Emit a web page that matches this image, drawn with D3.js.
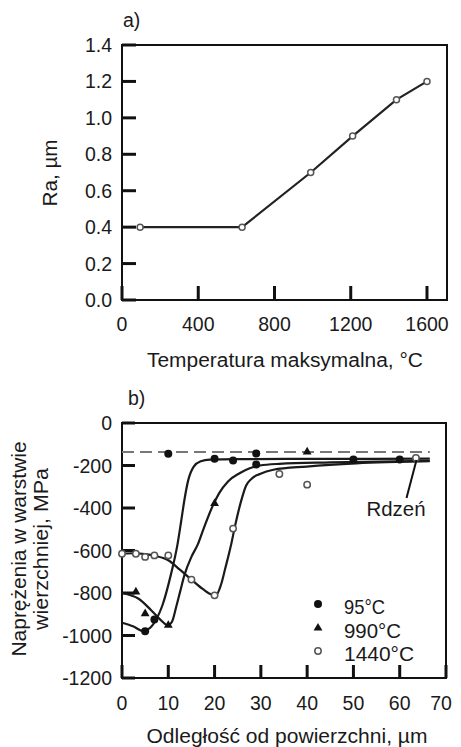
<!DOCTYPE html>
<html><head><meta charset="utf-8">
<script src="https://cdn.jsdelivr.net/npm/d3@7"></script>
<style>
html,body{margin:0;padding:0;background:#fff;}
svg text{font-family:"Liberation Sans",Arial,sans-serif;fill:#1a1a1a;}
</style></head>
<body><svg id="c" width="461" height="747"></svg>
<script>
// ---- Chart a data ----
const tempA = [95, 630, 990, 1210, 1440, 1600];
const raA = [0.4, 0.4, 0.7, 0.9, 1.1, 1.2];
const xTicksA = [0, 400, 800, 1200, 1600];
const yTicksA = [0.0, 0.2, 0.4, 0.6, 0.8, 1.0, 1.2, 1.4];

// ---- Chart b data ----
const seriesNames = ["95°C", "990°C", "1440°C"];
const pts95 = [[5,-980],[7,-925],[10,-145],[20,-168],[24,-176],[29,-144],[29,-195],[50,-172],[60,-172]];
const pts990 = [[3,-795],[5,-897],[10,-952],[20,-379],[40,-136]];
const pts1440 = [[0,-615],[3,-615],[5,-630],[7,-623],[10,-623],[15,-737],[20,-811],[24,-497],[34,-240],[40,-290],[63.5,-165]];
const fit95 = [[0,-940],[2.5,-958],[4.5,-978],[6,-965],[7.5,-920],[8.7,-860],[10.6,-710],[12,-570],[12.8,-460],[13.5,-360],[14.3,-270],[15.5,-205],[17,-180],[19,-172],[25,-170],[40,-169],[66.5,-168]];
const fit990 = [[0,-800],[2,-812],[3.5,-826],[6.3,-881],[8.5,-930],[9.9,-952],[10.8,-935],[11.7,-866],[12.6,-790],[13.5,-715],[15,-630],[16.4,-570],[17.5,-505],[19.6,-390],[21,-330],[22.9,-275],[25.5,-235],[27.6,-213],[29.8,-200],[34,-192],[45,-185],[66.5,-178]];
const fit1440 = [[0,-615],[2.7,-613],[5,-617],[7.1,-625],[9.9,-645],[12.5,-690],[15,-737],[17.5,-782],[19.5,-808],[20.3,-810],[21.4,-760],[22.3,-685],[23,-625],[23.6,-570],[24.3,-497],[25.7,-370],[26.8,-295],[28,-262],[29.8,-240],[32.7,-220],[39.9,-205],[50.6,-190],[66.5,-180]];
const coreLevel = -136;
const xTicksB = [0, 10, 20, 30, 40, 50, 60, 70];
const yTicksB = [0, -200, -400, -600, -800, -1000, -1200];

const svg = d3.select("#c");
const FS = 19.5;

function label(g, x, y, txt, len, anchor, rot, fs) {
  const t = g.append("text").attr("font-size", fs || FS).attr("text-anchor", anchor || "start").text(txt);
  if (rot) t.attr("transform", `translate(${x},${y}) rotate(-90)`);
  else t.attr("x", x).attr("y", y);
  if (len) t.attr("textLength", len).attr("lengthAdjust", "spacingAndGlyphs");
  return t;
}

// ---------------- Chart a ----------------
const xa = d3.scaleLinear().domain([0, 1705]).range([122, 447]);
const ya = d3.scaleLinear().domain([0, 1.4]).range([300, 45]);
const ga = svg.append("g");
ga.append("rect").attr("x", 122).attr("y", 45).attr("width", 325).attr("height", 255)
  .attr("fill", "none").attr("stroke", "#111").attr("stroke-width", 2);
ga.selectAll(".yt").data(yTicksA).join("line")
  .attr("x1", 122).attr("x2", 136).attr("y1", d => ya(d)).attr("y2", d => ya(d))
  .attr("stroke", "#111").attr("stroke-width", 3);
ga.selectAll(".xt").data(xTicksA).join("line")
  .attr("x1", d => xa(d)).attr("x2", d => xa(d)).attr("y1", 300).attr("y2", 286)
  .attr("stroke", "#111").attr("stroke-width", 3);
ga.selectAll(".yl").data(yTicksA).join("text")
  .attr("x", 112).attr("y", d => ya(d) + 7).attr("text-anchor", "end")
  .attr("font-size", FS).text(d => d.toFixed(1));
ga.selectAll(".xl").data(xTicksA).join("text")
  .attr("x", d => xa(d)).attr("y", 331).attr("text-anchor", "middle")
  .attr("font-size", FS).text(d => d);
label(ga, 285, 367, "Temperatura maksymalna, °C", 276, "middle");
label(ga, 57, 173, "Ra, µm", 67, "middle", true);
label(ga, 123, 27, "a)");
const dA = tempA.map((t, i) => [t, raA[i]]);
ga.append("path").datum(dA)
  .attr("d", d3.line().x(d => xa(d[0])).y(d => ya(d[1])))
  .attr("fill", "none").attr("stroke", "#222").attr("stroke-width", 2.2);
ga.selectAll(".pa").data(dA).join("circle")
  .attr("cx", d => xa(d[0])).attr("cy", d => ya(d[1])).attr("r", 3)
  .attr("fill", "#fff").attr("stroke", "#555").attr("stroke-width", 1.5);

// ---------------- Chart b ----------------
const xb = d3.scaleLinear().domain([0, 70]).range([122, 446]);
const yb = d3.scaleLinear().domain([-1200, 0]).range([678, 423]);
const gb = svg.append("g");
gb.append("rect").attr("x", 122).attr("y", 423).attr("width", 324).attr("height", 255)
  .attr("fill", "none").attr("stroke", "#111").attr("stroke-width", 2);
gb.selectAll(".yt").data(yTicksB).join("line")
  .attr("x1", 122).attr("x2", 135).attr("y1", d => yb(d)).attr("y2", d => yb(d))
  .attr("stroke", "#111").attr("stroke-width", 3);
gb.selectAll(".xt").data(xTicksB).join("line")
  .attr("x1", d => xb(d)).attr("x2", d => xb(d)).attr("y1", 678).attr("y2", 665)
  .attr("stroke", "#111").attr("stroke-width", 3);
gb.selectAll(".yl").data(yTicksB).join("text")
  .attr("x", 112).attr("y", d => yb(d) + 7).attr("text-anchor", "end")
  .attr("font-size", FS).text(d => d);
gb.selectAll(".xl").data(xTicksB).join("text")
  .attr("x", d => xb(d) - (d === 70 ? 5 : 0)).attr("y", 710).attr("text-anchor", "middle")
  .attr("font-size", FS).text(d => d);
label(gb, 287, 743, "Odległość od powierzchni, µm", 281, "middle");
label(gb, 26, 549, "Naprężenia w warstwie", 215, "middle", true);
label(gb, 48, 549, "wierzchniej, MPa", 162, "middle", true);
label(gb, 128, 405, "b)");

// core dashed line
gb.append("line").attr("x1", xb(0)).attr("x2", xb(66.5)).attr("y1", yb(coreLevel)).attr("y2", yb(coreLevel))
  .attr("stroke", "#777").attr("stroke-width", 2).attr("stroke-dasharray", "12,6");

const lineB = d3.line().x(d => xb(d[0])).y(d => yb(d[1])).curve(d3.curveMonotoneX);
[fit95, fit990, fit1440].forEach(f => {
  gb.append("path").datum(f).attr("d", lineB)
    .attr("fill", "none").attr("stroke", "#1a1a1a").attr("stroke-width", 2.2);
});

// markers
gb.selectAll(".m95").data(pts95).join("circle")
  .attr("cx", d => xb(d[0])).attr("cy", d => yb(d[1])).attr("r", 4).attr("fill", "#111");
const tri = d3.symbol().type(d3.symbolTriangle).size(34);
gb.selectAll(".m990").data(pts990).join("path")
  .attr("d", tri).attr("transform", d => `translate(${xb(d[0])},${yb(d[1])})`).attr("fill", "#111");
gb.selectAll(".m1440").data(pts1440).join("circle")
  .attr("cx", d => xb(d[0])).attr("cy", d => yb(d[1])).attr("r", 3.2)
  .attr("fill", "#fff").attr("stroke", "#555").attr("stroke-width", 1.5);

// Rdzeń label
gb.append("line").attr("x1", 416.5).attr("y1", 460).attr("x2", 406.5).attr("y2", 498)
  .attr("stroke", "#111").attr("stroke-width", 2);
label(gb, 396, 516, "Rdzeń", 59, "middle", false, 21);

// legend
const legY = [604, 628, 651];
const legLen = [41, 57, 70];
const lg = gb.append("g");
lg.append("circle").attr("cx", 318).attr("cy", legY[0]).attr("r", 4).attr("fill", "#111");
lg.append("path").attr("d", tri).attr("transform", `translate(318,${legY[1]})`).attr("fill", "#111");
lg.append("circle").attr("cx", 318).attr("cy", legY[2]).attr("r", 3.2)
  .attr("fill", "#fff").attr("stroke", "#555").attr("stroke-width", 1.5);
seriesNames.forEach((n, i) => label(lg, 344, legY[i] + 9.5, n, legLen[i], "start", false, 21));
</script></body></html>
